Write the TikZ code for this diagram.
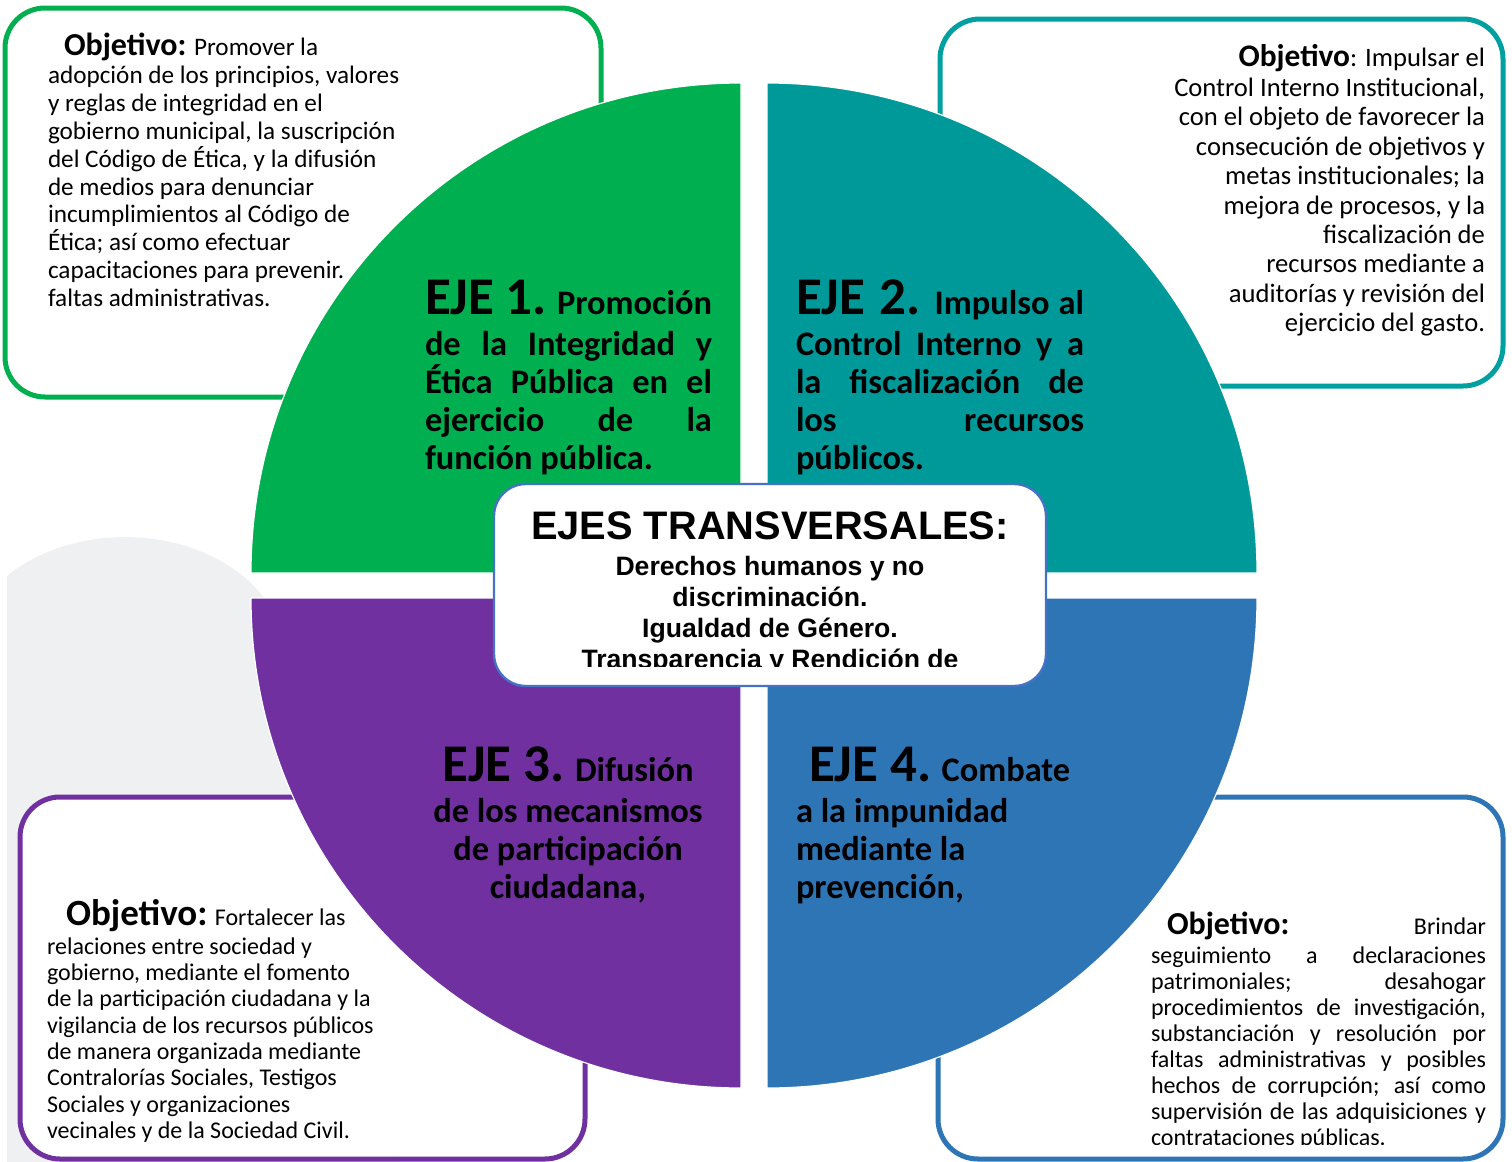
\documentclass[tikz,border=0pt]{standalone}
\usepackage{fontspec}
\setmainfont{Carlito}
\newfontfamily\arialf{Liberation Sans}
\definecolor{cgreen}{HTML}{00B050}
\definecolor{cteal}{HTML}{009999}
\definecolor{tealframe}{HTML}{00A0A0}
\definecolor{cpurple}{HTML}{7030A0}
\definecolor{cblue}{HTML}{2E75B6}
\definecolor{cframe}{HTML}{4472C4}
\definecolor{cgrey}{HTML}{EFF0F2}
\newcommand{\ejeb}[1]{{\fontsize{26.5}{26.5}\selectfont #1}}
\newcommand{\objb}[2]{{\bfseries\fontsize{#1}{#1}\selectfont #2}}
\begin{document}
\begin{tikzpicture}[x=0.5pt,y=0.5pt,
  objbox/.style={line width=2.5pt, rounded corners=20pt, fill=white},
  quad/.style={draw=white, line width=0.6pt},
  txt/.style={inner sep=0pt, outer sep=0pt, text=black},
]
\useasboundingbox (0,0) rectangle (1512,-1162);
% grey background shape
\fill[cgrey] (7,-1162) -- (7,-576) arc[start angle=137.5, end angle=0, x radius=160, y radius=120] -- (400,-657) -- (400,-1162) -- cycle;
% objective boxes
\draw[objbox, draw=cgreen] (5,-8) rectangle (601,-397);
\draw[objbox, draw=tealframe] (940,-19) rectangle (1503,-386);
\draw[objbox, draw=cpurple] (20,-797) rectangle (585,-1159);
\draw[objbox, draw=cblue] (938,-797) rectangle (1503,-1159);
% quadrants
\filldraw[quad, fill=cgreen] (741,-573) -- (251,-573) arc[start angle=180, end angle=90, radius=490] -- cycle;
\filldraw[quad, fill=cteal] (767,-573) -- (767,-83) arc[start angle=90, end angle=0, radius=490] -- cycle;
\filldraw[quad, fill=cpurple] (741,-598) -- (251,-598) arc[start angle=180, end angle=270, radius=490] -- cycle;
\filldraw[quad, fill=cblue] (767,-598) -- (1257,-598) arc[start angle=0, end angle=-90, radius=490] -- cycle;
% center box
\draw[draw=cframe, line width=1.2pt, fill=white, rounded corners=16pt] (494,-484) rectangle (1046,-686);

% objective texts
\node[txt, anchor=north west, align=left, font=\fontsize{12.6}{13.95}\selectfont] (obj1) at (48,-33)
{\hspace*{8pt}\objb{16}{Objetivo:} Promover la\\
adopción de los principios, valores\\
y reglas de integridad en el\\
gobierno municipal, la suscripción\\
del Código de Ética, y la difusión\\
de medios para denunciar\\
incumplimientos al Código de\\
Ética; así como efectuar\\
capacitaciones para prevenir.\\
faltas administrativas.};

\node[txt, anchor=north east, align=right, font=\fontsize{13.3}{14.7}\selectfont] (obj2) at (1485,-44)
{\objb{15.7}{Objetivo}: Impulsar el\\[0.5pt]
Control Interno Institucional,\\
con el objeto de favorecer la\\
consecución de objetivos y\\
metas institucionales; la\\
mejora de procesos, y la\\
fiscalización de\\
recursos mediante a\\
auditorías y revisión del\\
ejercicio del gasto.};

\node[txt, anchor=north west, align=left, font=\fontsize{12}{13.15}\selectfont] (obj3) at (47,-899)
{\hspace*{9.5pt}\objb{18.5}{Objetivo:} Fortalecer las\\[1.5pt]
relaciones entre sociedad y\\
gobierno, mediante el fomento\\
de la participación ciudadana y la\\
vigilancia de los recursos públicos\\
de manera organizada mediante\\
Contralorías Sociales, Testigos\\
Sociales y organizaciones\\
vecinales y de la Sociedad Civil.};

\begin{scope}
\clip (900,-790) rectangle (1510,-1144);
\node[txt, anchor=north west, align=left, font=\fontsize{12}{13}\selectfont] (obj4) at (1151,-912)
{\makebox[167.5pt][s]{\hspace*{8pt}\objb{16}{Objetivo:} Brindar}\\[1.5pt]
\makebox[167.5pt][s]{seguimiento a declaraciones}\\
\makebox[167.5pt][s]{patrimoniales; desahogar}\\
\makebox[167.5pt][s]{procedimientos de investigación,}\\
\makebox[167.5pt][s]{substanciación y resolución por}\\
\makebox[167.5pt][s]{faltas administrativas y posibles}\\
\makebox[167.5pt][s]{hechos de corrupción; así como}\\
\makebox[167.5pt][s]{supervisión de las adquisiciones y}\\
contrataciones públicas.};
\end{scope}

% EJE texts
\node[txt, anchor=north west, align=left, font=\bfseries\fontsize{17.2}{19}\selectfont] (eje1) at (425,-280)
{\makebox[143.5pt][s]{\ejeb{EJE 1.} Promoción}\\[1.5pt]
\makebox[143.5pt][s]{de la Integridad y}\\
\makebox[143.5pt][s]{Ética Pública en el}\\
\makebox[143.5pt][s]{ejercicio de la}\\
función pública.};

\node[txt, anchor=north west, align=left, font=\bfseries\fontsize{17.2}{19}\selectfont] (eje2) at (796,-280)
{\makebox[144pt][s]{\ejeb{EJE 2.} Impulso al}\\[1.5pt]
\makebox[144pt][s]{Control Interno y a}\\
\makebox[144pt][s]{la fiscalización de}\\
\makebox[144pt][s]{los recursos}\\
públicos.};

\node[txt, anchor=north, align=center, font=\bfseries\fontsize{17.2}{19}\selectfont] (eje3) at (568,-747)
{\ejeb{EJE 3.} Difusión\\[1.5pt]
de los mecanismos\\
de participación\\
ciudadana,};

\node[txt, anchor=north west, align=left, font=\bfseries\fontsize{17.2}{19}\selectfont] (eje4) at (796,-747)
{\hspace*{6.5pt}\ejeb{EJE 4.} Combate\\[1.5pt]
a la impunidad\\
mediante la\\
prevención,};

% center texts
\node[txt, anchor=north, font=\arialf\bfseries\fontsize{19.9}{19.9}\selectfont] (title) at (770,-512) {EJES TRANSVERSALES:};
\begin{scope}
\clip (494,-484) rectangle (1046,-666);
\node[txt, anchor=north, align=center, font=\arialf\bfseries\fontsize{13.3}{15.5}\selectfont] (ejes) at (770,-556)
{Derechos humanos y no\\
discriminación.\\
Igualdad de Género.\\
Transparencia y Rendición de};
\end{scope}
\end{tikzpicture}
\end{document}
